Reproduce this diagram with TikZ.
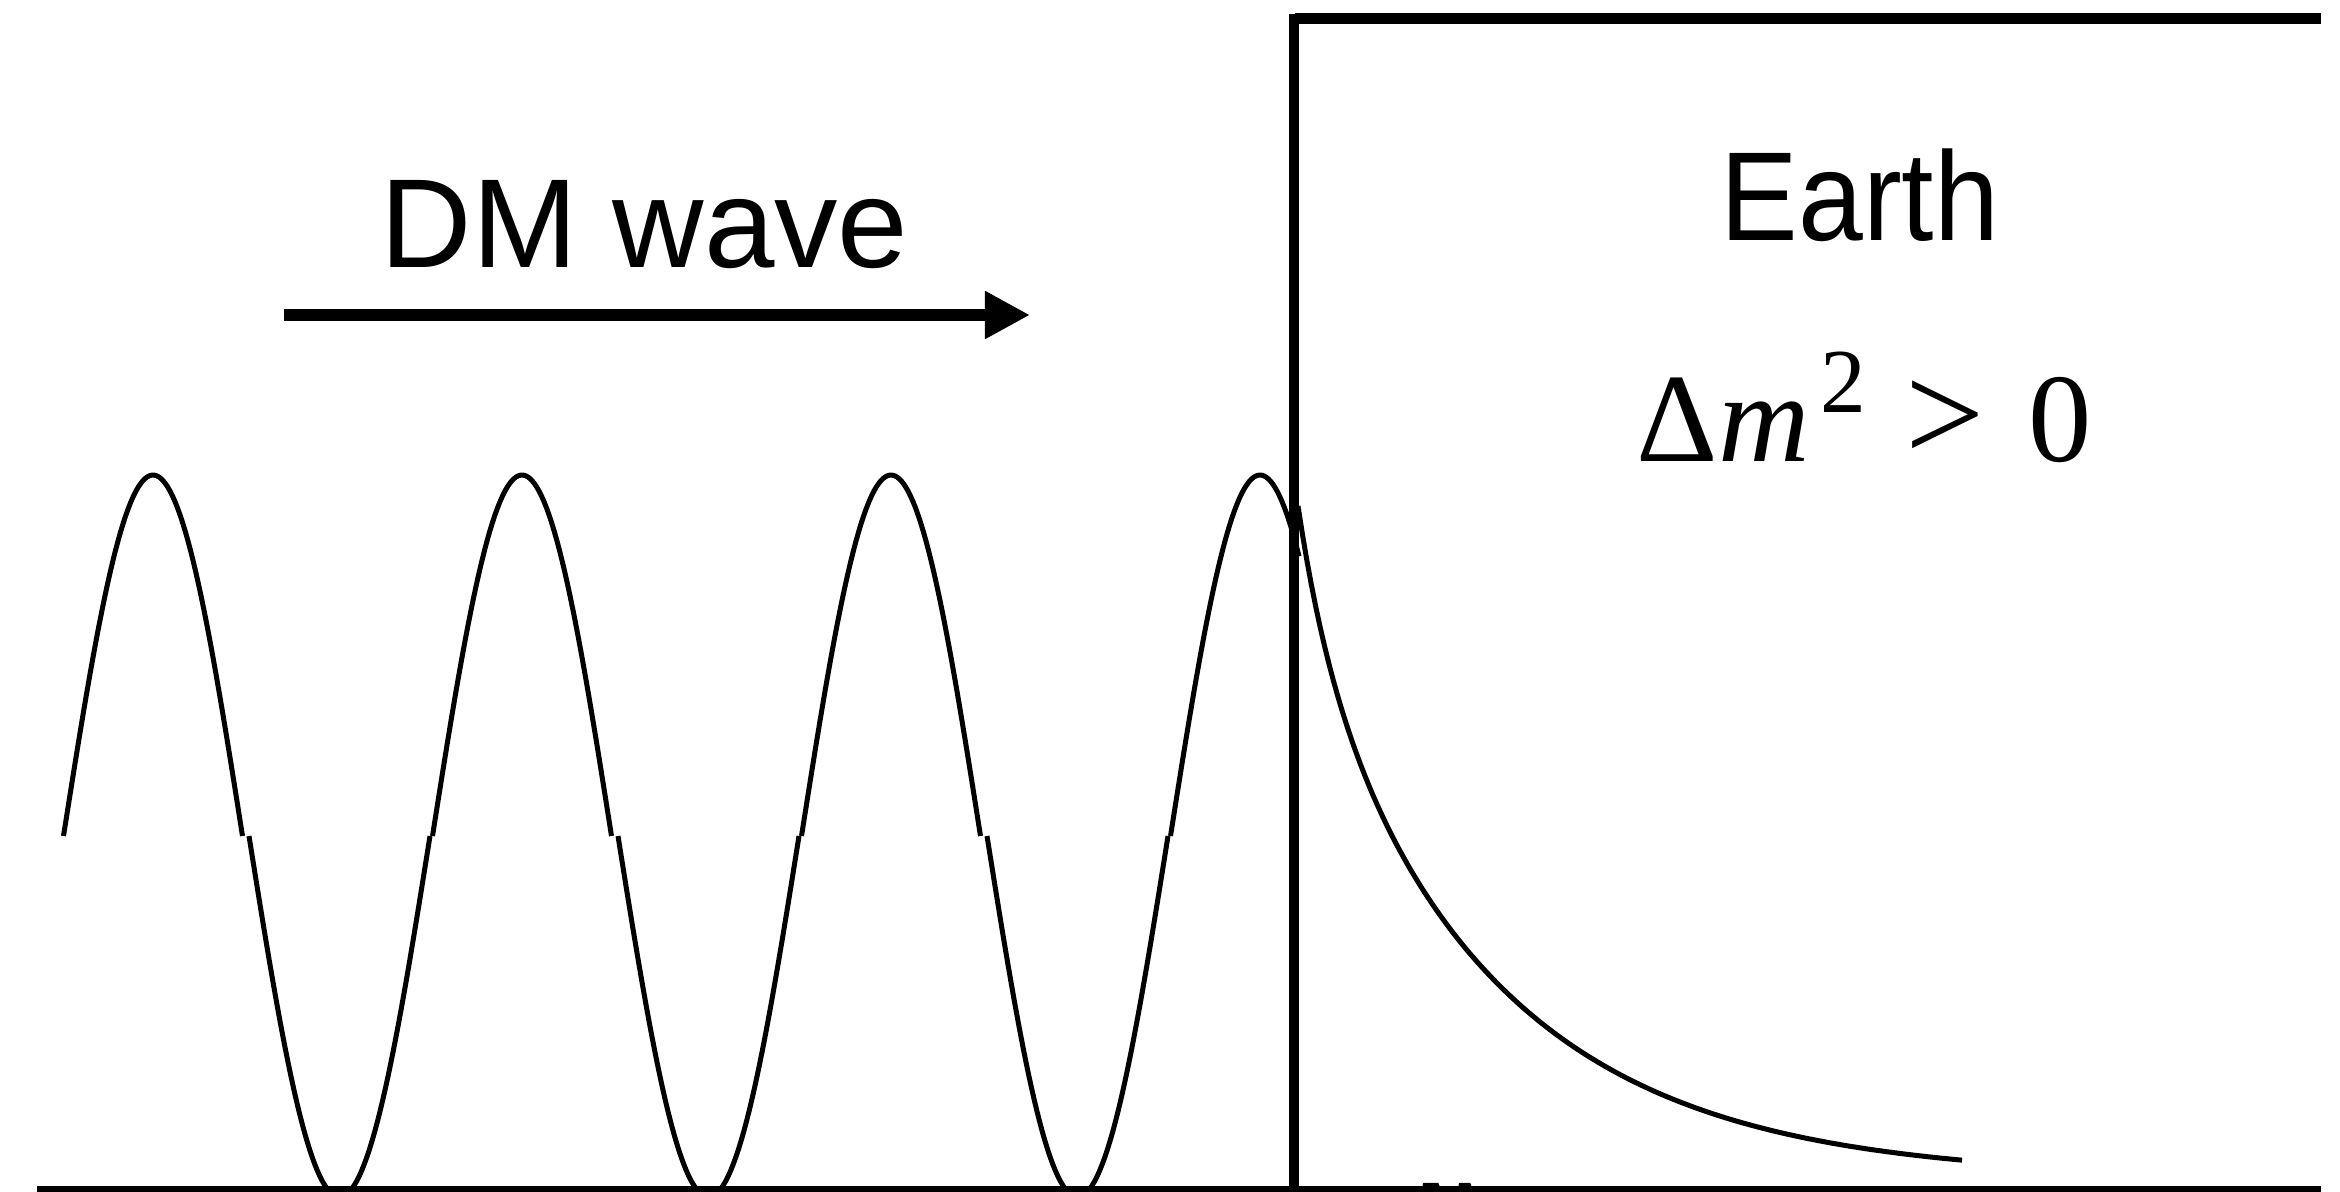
\documentclass[tikz,border=0pt]{standalone}
\usepackage{fontspec}
\setmainfont{Liberation Serif}
\newfontfamily\helv{Liberation Sans}
\usetikzlibrary{arrows.meta}
\begin{document}
\begin{tikzpicture}[x=0.01cm,y=-0.01cm,
  wave/.style={line width=0.05cm, line join=round},
  bar/.style={line width=0.10cm},
  axisline/.style={line width=0.10cm},
  dmarrow/.style={line width=0.11cm, -{Triangle[length=0.45cm,width=0.45cm]}},
  lab/.style={inner sep=0pt, anchor=base west, font=\helv\fontsize{36}{40}\selectfont}]
\useasboundingbox (0,0) rectangle (2340,1191);
% wave pieces: crests
\foreach \c in {153,522,891}{
  \draw[wave] plot[domain=-89.5:89.5, samples=70] ({\c+\x},{836-361*cos(90*\x/89.5)});
}
\draw[wave] plot[domain=-89.5:39, samples=60] ({1260+\x},{836-361*cos(90*\x/89.5)});
% wave pieces: troughs
\foreach \t in {339.5,708.5,1077.5}{
  \draw[wave] plot[domain=-90.5:90.5, samples=70] ({\t+\x},{836+361*cos(90*\x/90.5)});
}
% decay inside Earth
\draw[wave] plot[domain=0:664, samples=150]
  ({1298+\x},{1178-672*exp(-(\x/195+0.22*(1-exp(-\x/45))))});
% axis
\coordinate (axL) at (37,1191);
\coordinate (axR) at (2321,1191);
\draw[axisline] (axL) -- (axR);
% Earth boundary
\coordinate (bTop) at (1294,14);
\coordinate (bBot) at (1294,1191);
\coordinate (tL) at (1295,18.5);
\coordinate (tR) at (2321,18.5);
\draw[bar] (bTop) -- (bBot);
\draw[bar] (tL) -- (tR);
% DM arrow
\coordinate (arrS) at (284,315);
\coordinate (arrE) at (1030,315);
\draw[dmarrow] (arrS) -- (arrE);
% labels
\node[lab] (dm) at (380,268) {DM wave};
\node[lab] (earth) at (1720,241) {\scalebox{0.92}[1]{Earth}};
\node[inner sep=0pt, anchor=base west, font=\fontsize{36}{40}\selectfont] (dm2) at (1636,461)
  {Δ\textit{m}\hspace{0.11cm}\raisebox{0.48cm}{\fontsize{26}{28}\selectfont 2}\hspace{0.39cm}{\fontsize{40}{44}\selectfont >}\hspace{0.44cm}0};
\node[inner sep=0pt, anchor=north, font=\fontsize{36}{40}\selectfont\itshape] (xl) at (1445,1183) {x};
\end{tikzpicture}
\end{document}
